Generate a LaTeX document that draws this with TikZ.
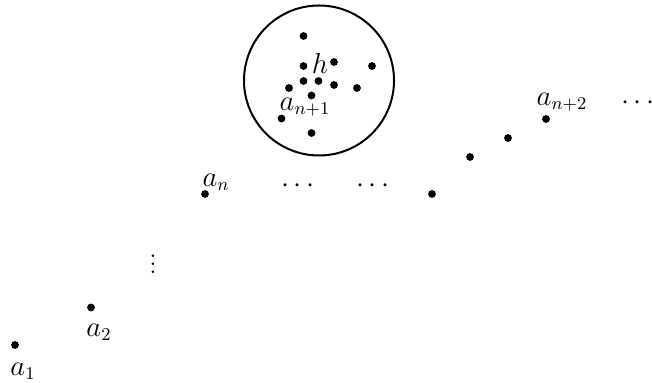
\documentclass[tikz,border=0pt]{standalone}
\begin{document}
\begin{tikzpicture}[x=0.5pt,y=-0.5pt,
  pt/.style={circle,fill=black,inner sep=0pt,minimum size=3.9pt},
  lbl/.style={inner sep=0pt,font=\fontsize{13.5}{15}\selectfont},
  ring/.style={draw=black,line width=1pt,circle,inner sep=0pt,minimum size=75pt}]
\useasboundingbox (0,0) rectangle (652,383);
% sequence points
\node[pt] (p1) at (15,345) {};
\node[lbl] (l1) at (23,371) {$a_1$};
\node[pt] (p2) at (91,307.5) {};
\node[lbl] (l2) at (99,332) {$a_2$};
\node[lbl] (vd) at (153,258) {$\vdots$};
\node[pt] (pn) at (205,194) {};
\node[lbl] (ln) at (216,182) {$a_n$};
\node[lbl] (c1) at (298,186) {$\cdots$};
\node[lbl] (c2) at (373,186) {$\cdots$};
\node[pt] (q1) at (432,194) {};
\node[pt] (q2) at (470,157) {};
\node[pt] (q3) at (508,138) {};
\node[pt] (q4) at (546,119) {};
\node[lbl] (ln2) at (562,102) {$a_{n+2}$};
\node[lbl] (c3) at (638,103) {$\cdots$};
% cluster
\node[ring] (ring) at (319,80.5) {};
\node[pt] (h1) at (303.5,36) {};
\node[pt] (h2) at (303.5,66) {};
\node[pt] (h3) at (334,62) {};
\node[pt] (h4) at (372,66) {};
\node[pt] (h5) at (303.5,81) {};
\node[pt] (h6) at (318.5,81) {};
\node[pt] (h7) at (334,85) {};
\node[pt] (h8) at (289,88) {};
\node[pt] (h9) at (357,88) {};
\node[pt] (h10) at (311.5,95.5) {};
\node[pt] (h11) at (281.5,118.5) {};
\node[pt] (h12) at (311.5,133) {};
\node[lbl] (lh) at (320,64) {$h$};
\node[lbl] (ln1) at (305,107) {$a_{n+1}$};
\end{tikzpicture}
\end{document}
